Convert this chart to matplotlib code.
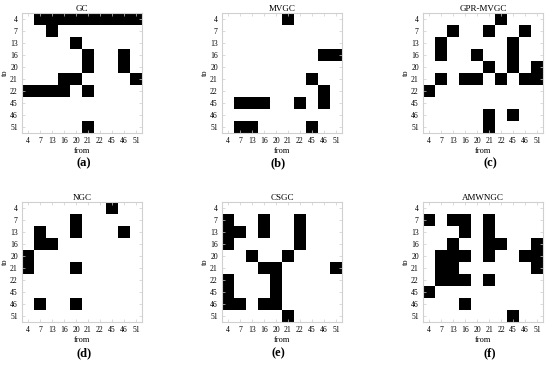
import numpy as np
import matplotlib
matplotlib.use('Agg')
import matplotlib.pyplot as plt

plt.rcParams['font.family'] = ['Liberation Serif', 'DejaVu Serif']

labels = ['4', '7', '13', '16', '20', '21', '22', '45', '46', '51']
titles = ['GC', 'MVGC', 'GPR-MVGC', 'NGC', 'CSGC', 'AMWNGC']
captions = ['(a)', '(b)', '(c)', '(d)', '(e)', '(f)']

# links: row "to" -> list of "from" column indices (order of labels)
gc = {0: [1, 2, 3, 4, 5, 6, 7, 8, 9], 1: [2], 2: [4], 3: [5, 8], 4: [5, 8],
      5: [3, 4, 9], 6: [0, 1, 2, 3, 5], 9: [5]}
mvgc = {0: [5], 3: [8, 9], 5: [7], 6: [8], 7: [1, 2, 3, 6, 8], 9: [1, 2, 7]}
gpr_mvgc = {0: [6], 1: [2, 5, 8], 2: [1, 7], 3: [1, 4, 7], 4: [5, 7, 9],
            5: [1, 3, 4, 6, 8, 9], 6: [0], 8: [5, 7], 9: [5]}
ngc = {0: [7], 1: [4], 2: [1, 4, 8], 3: [1, 2], 4: [0], 5: [0, 4], 8: [1, 4]}
csgc = {1: [0, 3, 6], 2: [0, 1, 3, 6], 3: [0, 6], 4: [2, 5], 5: [3, 4, 9],
        6: [0, 4], 7: [0, 4], 8: [0, 1, 3, 4], 9: [5]}
amwngc = {1: [0, 2, 3, 5], 2: [3, 5], 3: [2, 5, 6, 9], 4: [1, 2, 3, 5, 8, 9],
          5: [1, 2, 9], 6: [1, 2, 3, 5], 7: [0], 8: [3], 9: [7]}
results = [gc, mvgc, gpr_mvgc, ngc, csgc, amwngc]


def to_matrix(links):
    m = np.zeros((len(labels), len(labels)))
    for r, cols in links.items():
        m[r, cols] = 1
    return m


fig = plt.figure(figsize=(5.5, 3.65), dpi=100)
lefts = [22, 222, 423]
tops = [13, 202]
cap_x = [84, 278, 490]
cap_y = [163, 353]

for i, links in enumerate(results):
    row, col = divmod(i, 3)
    ax = fig.add_axes([lefts[col] / 550, 1 - (tops[row] + 120) / 365, 120 / 550, 120 / 365])
    ax.imshow(to_matrix(links), cmap='gray_r', vmin=0, vmax=1, aspect='auto',
              interpolation='nearest')
    ax.set_xticks(range(len(labels)))
    ax.set_xticklabels(labels)
    ax.set_yticks(range(len(labels)))
    ax.set_yticklabels(labels)
    ax.tick_params(labelsize=5.5, length=2, width=0.5, color='#cccccc', direction='in',
                   top=True, right=True, pad=3)
    for s in ax.spines.values():
        s.set_color('#d0d0d0')
        s.set_linewidth(0.8)
    ax.set_title(titles[i], fontsize=6.5, pad=1.5)
    ax.set_xlabel('from', fontsize=6, labelpad=1)
    ax.set_ylabel('to', fontsize=6, labelpad=1)
    fig.text(cap_x[col] / 550, 1 - cap_y[row] / 365, captions[i], fontsize=9,
             fontweight='bold', ha='center', va='center')

fig.savefig('out.png', dpi=100)
